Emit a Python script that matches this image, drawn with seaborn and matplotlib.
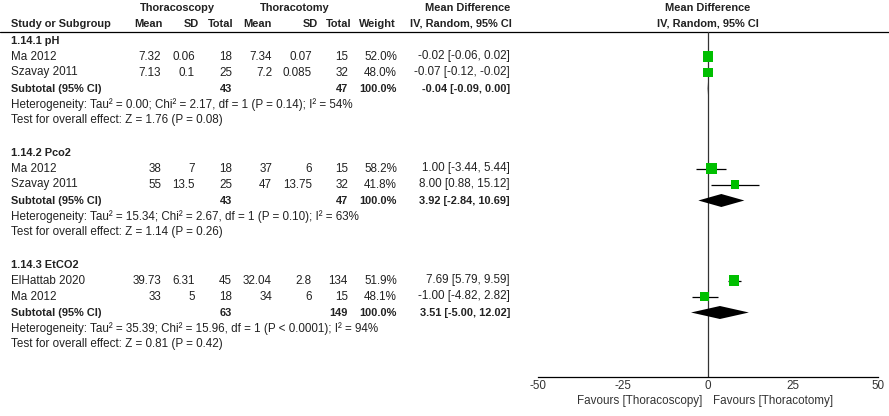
import numpy as np
import pandas as pd
import seaborn as sns
import matplotlib.pyplot as plt

# values
groups = ["1.14.1 pH", "1.14.2 Pco2", "1.14.3 EtCO2"]
study_group = [0, 0, 1, 1, 2, 2]
studies = ["Ma 2012", "Szavay 2011", "Ma 2012", "Szavay 2011", "ElHattab 2020", "Ma 2012"]
scopy_mean = [7.32, 7.13, 38, 55, 39.73, 33]
scopy_sd = [0.06, 0.1, 7, 13.5, 6.31, 5]
scopy_n = [18, 25, 18, 25, 45, 18]
tomy_mean = [7.34, 7.2, 37, 47, 32.04, 34]
tomy_sd = [0.07, 0.085, 6, 13.75, 2.8, 6]
tomy_n = [15, 32, 15, 32, 134, 15]
weight = [52.0, 48.0, 58.2, 41.8, 51.9, 48.1]
md = [-0.02, -0.07, 1.00, 8.00, 7.69, -1.00]
md_lo = [-0.06, -0.12, -3.44, 0.88, 5.79, -4.82]
md_hi = [0.02, -0.02, 5.44, 15.12, 9.59, 2.82]

sub_scopy_n = [43, 43, 63]
sub_tomy_n = [47, 47, 149]
sub_md = [-0.04, 3.92, 3.51]
sub_lo = [-0.09, -2.84, -5.00]
sub_hi = [0.00, 10.69, 12.02]
tau2 = [0.00, 15.34, 35.39]
chi2 = [2.17, 2.67, 15.96]
het_p = ["= 0.14", "= 0.10", "< 0.0001"]
i2 = [54, 63, 94]
z_val = [1.76, 1.14, 0.81]
z_p = [0.08, 0.26, 0.42]
x_ticks = [-50, -25, 0, 25, 50]

sns.set_theme(style="white")
plt.rcParams['font.family'] = ['Liberation Sans', 'DejaVu Sans']

W, H = 889, 416
FS = 8.4      # plain text
FS_B = 7.9    # bold text
TXT = "#222222"
GREEN = "#00bf00"

def row_y(r):
    return 40.5 + 16 * r

# work out which row everything sits on
study_rows, sub_rows, head_rows = [], [], []
r = 0
for g in range(len(groups)):
    head_rows.append(r)
    idx = [i for i, sg in enumerate(study_group) if sg == g]
    for k in range(len(idx)):
        study_rows.append(r + 1 + k)
    sub_rows.append(r + 1 + len(idx))
    r += len(idx) + 5

df = pd.DataFrame({
    "study": studies, "md": md, "lo": md_lo, "hi": md_hi, "weight": weight,
    "y": [row_y(rr) for rr in study_rows],
})

fig = plt.figure(figsize=(W / 100, H / 100), dpi=100)

# text layer in pixel coordinates
tx = fig.add_axes([0, 0, 1, 1])
tx.set_xlim(0, W)
tx.set_ylim(H, 0)
tx.axis("off")

def put(x, y, s, ha="right", bold=False, color=TXT):
    tx.text(x, y, s, ha=ha, va="center", fontsize=FS_B if bold else FS, color=color,
            fontweight="bold" if bold else "normal")

# headers
put(177, 8, "Thoracoscopy", ha="center", bold=True)
put(295, 8, "Thoracotomy", ha="center", bold=True)
put(510, 8, "Mean Difference", bold=True)
put(708, 8, "Mean Difference", ha="center", bold=True)
put(11, 24, "Study or Subgroup", ha="left", bold=True)
for x, s in zip([163, 199, 233, 272, 318, 352, 396, 512],
                ["Mean", "SD", "Total", "Mean", "SD", "Total", "Weight", "IV, Random, 95% CI"]):
    put(x, 24, s, bold=True)
put(708, 24, "IV, Random, 95% CI", ha="center", bold=True)
tx.axhline(32, color="black", lw=0.9)

cols = [161, 195, 232, 272, 312, 348, 397, 510]
for i in range(len(studies)):
    y = row_y(study_rows[i])
    put(11, y, studies[i], ha="left")
    vals = [f"{scopy_mean[i]:g}", f"{scopy_sd[i]:g}", str(scopy_n[i]),
            f"{tomy_mean[i]:g}", f"{tomy_sd[i]:g}", str(tomy_n[i]),
            f"{weight[i]:.1f}%", f"{md[i]:.2f} [{md_lo[i]:.2f}, {md_hi[i]:.2f}]"]
    for x, s in zip(cols, vals):
        put(x, y, s)

for g in range(len(groups)):
    put(11, row_y(head_rows[g]), groups[g], ha="left", bold=True)
    y = row_y(sub_rows[g])
    put(11, y, "Subtotal (95% CI)", ha="left", bold=True)
    put(cols[2], y, str(sub_scopy_n[g]), bold=True)
    put(cols[5], y, str(sub_tomy_n[g]), bold=True)
    put(cols[6], y, "100.0%", bold=True)
    put(cols[7], y, f"{sub_md[g]:.2f} [{sub_lo[g]:.2f}, {sub_hi[g]:.2f}]", bold=True)
    put(11, row_y(sub_rows[g] + 1),
        f"Heterogeneity: Tau² = {tau2[g]:.2f}; Chi² = {chi2[g]:.2f}, df = 1 (P {het_p[g]}); I² = {i2[g]}%",
        ha="left")
    put(11, row_y(sub_rows[g] + 2),
        f"Test for overall effect: Z = {z_val[g]:.2f} (P = {z_p[g]:.2f})", ha="left")

put(702, 401, "Favours [Thoracoscopy]", color="#333333")
put(713, 401, "Favours [Thoracotomy]", ha="left", color="#333333")

# forest panel: x in mean-difference units, y in the same pixel rows
x0, x1, ytop, ybot = 538, 878, 32, 377
ax = fig.add_axes([x0 / W, 1 - ybot / H, (x1 - x0) / W, (ybot - ytop) / H])
ax.patch.set_visible(False)
ax.set_xlim(x_ticks[0], x_ticks[-1])
ax.set_ylim(ybot, ytop)
for sp in ["top", "left", "right"]:
    ax.spines[sp].set_visible(False)
ax.spines["bottom"].set_color("black")
ax.spines["bottom"].set_linewidth(0.9)
ax.set_xticks(x_ticks)
ax.set_xticklabels([str(t) for t in x_ticks])
ax.set_yticks([])
ax.tick_params(axis="x", direction="in", length=4.5, width=0.9, color="black",
               pad=2, labelsize=FS, labelcolor="#333333")
ax.axvline(0, color="#333333", lw=0.9, zorder=1)

ax.hlines(df["y"], df["lo"], df["hi"], color="black", lw=0.9, zorder=2)
sizes = [(w * 0.2 * 0.72) ** 2 for w in weight]
sns.scatterplot(data=df, x="md", y="y", marker="s", s=sizes, color=GREEN,
                edgecolor="none", linewidth=0, ax=ax, legend=False, zorder=3)
ax.set_xlabel("")
ax.set_ylabel("")

for g in range(len(groups)):
    y = row_y(sub_rows[g])
    ax.fill([sub_lo[g], sub_md[g], sub_hi[g], sub_md[g]], [y, y - 6.5, y, y + 6.5],
            color="black", lw=0, zorder=3)

fig.savefig("out.png", dpi=100)
